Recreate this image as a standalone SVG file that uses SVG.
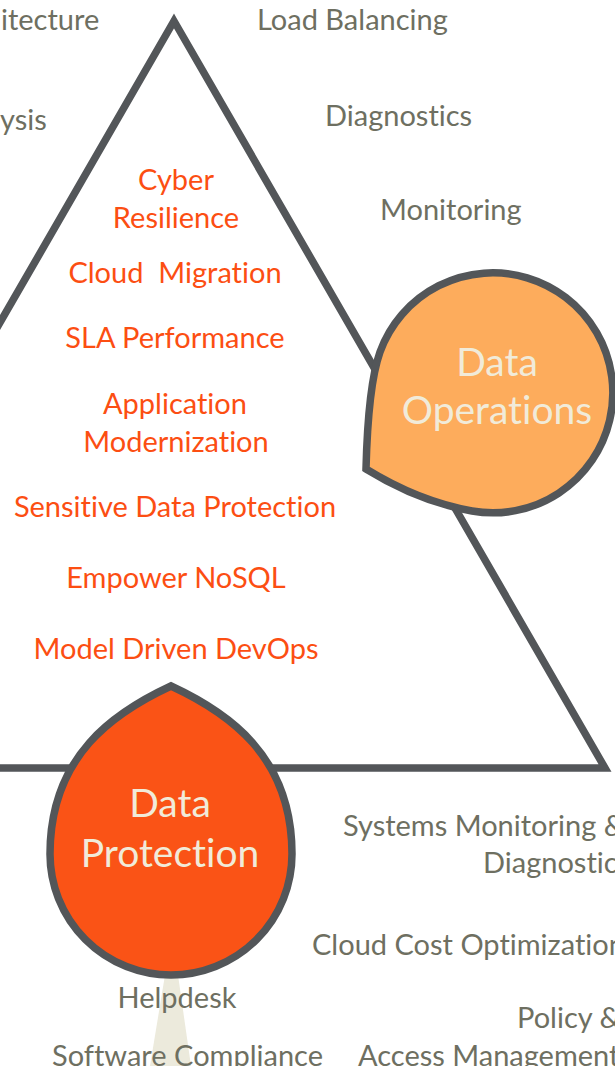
<svg xmlns="http://www.w3.org/2000/svg" width="615" height="1066" viewBox="0 0 615 1066">
<style>
text{font-variant-ligatures:none;font-feature-settings:"liga" 0}
.lbl{font-family:Lato,"Open Sans",sans-serif;font-size:29px;fill:#6E6F61}
.in{font-family:Lato,"Open Sans",sans-serif;font-size:29px;fill:#FC4E12;text-anchor:middle}
.dt{font-family:Lato,"Open Sans",sans-serif;font-size:39px;fill:#F1EBD9;text-anchor:middle}
.edge{fill:none;stroke:#535659;stroke-width:7.5;stroke-linejoin:miter;stroke-miterlimit:10}
.drop{stroke:#535659;stroke-width:7.5;stroke-linejoin:miter;stroke-miterlimit:10}
</style>
<rect width="615" height="1066" fill="#FFFFFF"/>
<g id="connectors">
<polygon class="edge" points="174,21 605,768 -257,768"/>
<polygon id="wedge" points="165,975 178,975 191,1066 150,1066" fill="#ECEADC"/>
</g>
<g id="labels-outer">
<text class="lbl" x="1" y="30">itecture</text>
<text class="lbl" x="0" y="130">ysis</text>
<text class="lbl" x="257" y="30">Load Balancing</text>
<text class="lbl" x="325" y="126">Diagnostics</text>
<text class="lbl" x="380" y="220">Monitoring</text>
<text class="lbl" x="343" y="836">Systems Monitoring &amp;</text>
<text class="lbl" x="483" y="873">Diagnostics</text>
<text class="lbl" x="312" y="955">Cloud Cost Optimization</text>
<text class="lbl" x="177" y="1008" text-anchor="middle">Helpdesk</text>
<text class="lbl" x="517" y="1028">Policy &amp;</text>
<text class="lbl" x="52" y="1066">Software Compliance</text>
<text class="lbl" x="358" y="1066">Access Management</text>
</g>
<g id="labels-inner">
<text class="in" x="176" y="190">Cyber</text>
<text class="in" x="176" y="228">Resilience</text>
<text class="in" x="175" y="283" xml:space="preserve">Cloud  Migration</text>
<text class="in" x="175" y="348">SLA Performance</text>
<text class="in" x="175" y="414">Application</text>
<text class="in" x="176" y="452">Modernization</text>
<text class="in" x="175" y="517">Sensitive Data Protection</text>
<text class="in" x="176" y="588">Empower NoSQL</text>
<text class="in" x="176" y="659">Model Driven DevOps</text>
</g>
<g id="data-operations">
<path class="drop" fill="#FDAC5C" d="M366,469 C367,430 370,380 380,352 A120,120 0 1 1 472,511 C433,504 400,490 366,469 Z"/>
<text class="dt" x="497" y="376">Data</text>
<text class="dt" x="497" y="424">Operations</text>
</g>
<g id="data-protection">
<path class="drop" fill="#FA5316" d="M171,686 C115,712 50,755 50,854 A121,121 0 0 0 292,854 C292,755 227,712 171,686 Z"/>
<text class="dt" x="170" y="817">Data</text>
<text class="dt" x="170" y="867">Protection</text>
</g>
</svg>
